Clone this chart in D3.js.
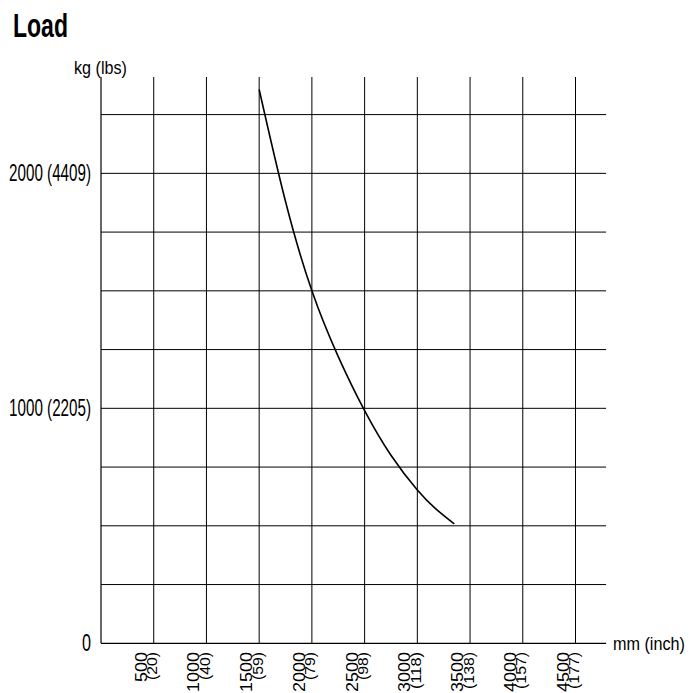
<!DOCTYPE html>
<html>
<head>
<meta charset="utf-8">
<script src="https://cdnjs.cloudflare.com/ajax/libs/d3/7.8.5/d3.min.js"></script>
<style>
  html, body { margin: 0; padding: 0; background: #fff; }
  svg { display: block; }
</style>
</head>
<body>
<script>
// ---- data ----
const title = "Load";
const yAxisTitle = "kg (lbs)";
const xAxisTitle = "mm (inch)";
const xTicksMm = [500, 1000, 1500, 2000, 2500, 3000, 3500, 4000, 4500];
const xTicksInch = ["(20)", "(40)", "(59)", "(79)", "(98)", "(118)", "(138)", "(157)", "(177)"];
const yGridKg = [250, 500, 750, 1000, 1250, 1500, 1750, 2000, 2250];
const yLabelKg = [0, 1000, 2000];
const yLabelText = ["0", "1000 (2205)", "2000 (4409)"];
const curveMm = [1500, 1750, 2000, 2250, 2500, 2750, 3000, 3175, 3350];
const curveKg = [2357, 1880, 1500, 1220, 990, 800, 652, 572, 508];

// ---- drawing ----
const W = 690, H = 693;
const svg = d3.select("body").append("svg").attr("width", W).attr("height", H);

const x = d3.scaleLinear().domain([0, 4500]).range([101, 575.5]);
const y = d3.scaleLinear().domain([0, 2250]).range([643.3, 114.6]);
const xMax = 4790, yMax = 2410;

const font = "'Liberation Sans', Arial, sans-serif";

// horizontally squeeze a text to a target advance width
function fit(sel, target) {
  sel.each(function () {
    const L = this.getComputedTextLength();
    if (!L) return;
    const s = target / L;
    const t = d3.select(this);
    const ax = +t.attr("x") || 0, ay = +t.attr("y") || 0;
    t.attr("transform", `translate(${ax},${ay}) scale(${s},1) translate(${-ax},${-ay})`);
  });
}

// grid verticals
svg.append("g").selectAll("line").data(xTicksMm).join("line")
  .attr("x1", d => x(d)).attr("x2", d => x(d))
  .attr("y1", y(0)).attr("y2", y(yMax))
  .attr("stroke", "#000").attr("stroke-width", 1);

// grid horizontals
svg.append("g").selectAll("line").data(yGridKg).join("line")
  .attr("x1", x(0)).attr("x2", x(xMax))
  .attr("y1", d => y(d)).attr("y2", d => y(d))
  .attr("stroke", "#000").attr("stroke-width", 1);

// axes lines
svg.append("line").attr("x1", x(0)).attr("x2", x(0)).attr("y1", y(0)).attr("y2", y(yMax))
  .attr("stroke", "#000").attr("stroke-width", 1.2);
svg.append("line").attr("x1", x(0)).attr("x2", x(xMax)).attr("y1", y(0)).attr("y2", y(0))
  .attr("stroke", "#000").attr("stroke-width", 1.2);

// curve
const pts = curveMm.map((m, i) => [m, curveKg[i]]);
svg.append("path").datum(pts)
  .attr("d", d3.line().x(d => x(d[0])).y(d => y(d[1])).curve(d3.curveNatural))
  .attr("fill", "none").attr("stroke", "#000").attr("stroke-width", 1.6);

// y labels
const yl = svg.append("g").selectAll("text").data(yLabelKg).join("text")
  .attr("x", 91).attr("y", d => y(d) + 8)
  .attr("text-anchor", "end")
  .attr("font-family", font).attr("font-size", 23)
  .text((d, i) => yLabelText[i]);
yl.filter((d, i) => i > 0).call(fit, 82);
yl.filter((d, i) => i === 0).call(fit, 9);

// x labels (rotated, two lines)
const xl = svg.append("g").selectAll("g").data(xTicksMm).join("g")
  .attr("transform", d => `translate(${x(d)},652) rotate(-90)`);
const xl1 = xl.append("text")
  .attr("x", 0).attr("y", -7)
  .attr("text-anchor", "end")
  .attr("font-family", font).attr("font-size", 16)
  .text(d => d);
xl1.each(function (d) { d3.select(this).call(fit, String(d).length * 10); });
const xl2 = xl.append("text")
  .attr("x", 0).attr("y", 3.5)
  .attr("text-anchor", "end")
  .attr("font-family", font).attr("font-size", 15)
  .text((d, i) => xTicksInch[i]);
xl2.each(function (d, i) { d3.select(this).call(fit, xTicksInch[i].length === 4 ? 28 : 37); });

// axis titles
svg.append("text").attr("x", 74).attr("y", 74)
  .attr("font-family", font).attr("font-size", 19)
  .text(yAxisTitle).call(fit, 53);
svg.append("text").attr("x", 613).attr("y", 650)
  .attr("font-family", font).attr("font-size", 19)
  .text(xAxisTitle).call(fit, 72);

// title
svg.append("text").attr("x", 13).attr("y", 37)
  .attr("font-family", font).attr("font-size", 33).attr("font-weight", "bold")
  .text(title).call(fit, 55);
</script>
</body>
</html>
